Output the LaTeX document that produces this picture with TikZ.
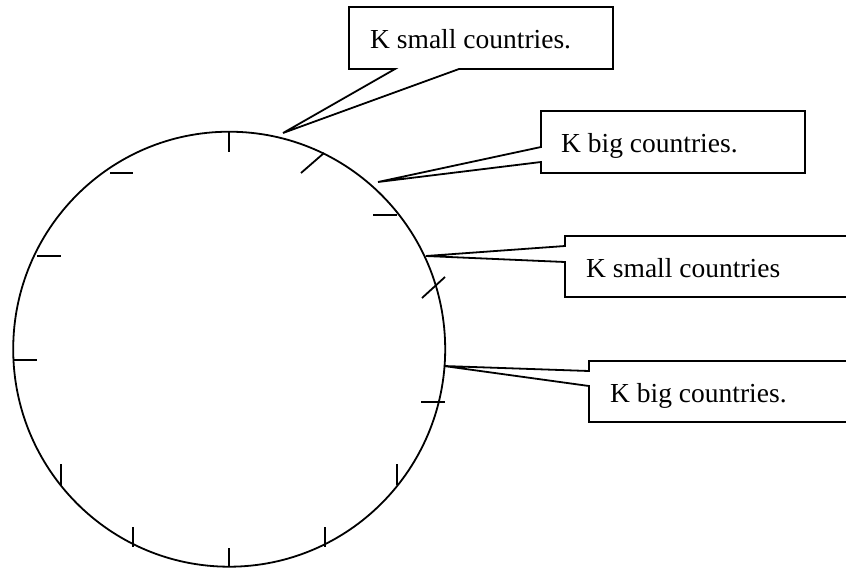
\documentclass[tikz,border=0pt]{standalone}
\usepackage{fontspec}
\setmainfont{Liberation Serif}
\begin{document}
\begin{tikzpicture}[x=1pt,y=-1pt,
  ln/.style={line width=1.8pt,line join=miter},
  tk/.style={line width=1.8pt},
  lbl/.style={anchor=base west,inner sep=0pt,font=\fontsize{27.5}{33}\selectfont}]
\useasboundingbox (0,0) rectangle (846,568);
\begin{scope}
\clip (0,0) rectangle (846,568);
% circle
\coordinate (c) at (229.2,349.2);
\draw[ln] (c) ellipse [x radius=216, y radius=217.5];
% ticks
\draw[tk] (229,132)--(229,152);
\draw[tk] (110,173)--(133,173);
\draw[tk] (37,256)--(61,256);
\draw[tk] (13,360)--(37,360);
\draw[tk] (61,464)--(61,485);
\draw[tk] (133,527)--(133,547);
\draw[tk] (229,548)--(229,567);
\draw[tk] (325,527)--(325,547);
\draw[tk] (397,464)--(397,485);
\draw[tk] (421,402)--(445,402);
\draw[tk] (301,173)--(324,153);
\draw[tk] (373,215)--(397,215);
\draw[tk] (422,298)--(445,277);
% callout 1
\coordinate (t1) at (283,133);
\draw[ln] (349,7) -- (613,7) -- (613,69) -- (459,69) -- (t1) -- (395,69) -- (349,69) -- cycle;
\node[lbl] (l1) at (370,48) {K small countries.};
% callout 2
\coordinate (t2) at (378,182);
\draw[ln] (541,111) -- (805,111) -- (805,173) -- (541,173) -- (541,162) -- (t2) -- (541,147) -- cycle;
\node[lbl] (l2) at (561,152) {K big countries.};
% callout 3
\coordinate (t3) at (426,256);
\draw[ln] (565,236) -- (870,236) -- (870,297) -- (565,297) -- (565,262) -- (t3) -- (565,246) -- cycle;
\node[lbl] (l3) at (586,277) {K small countries};
% callout 4
\coordinate (t4) at (444,366);
\draw[ln] (589,361) -- (870,361) -- (870,422) -- (589,422) -- (589,386) -- (t4) -- (589,371) -- cycle;
\node[lbl] (l4) at (610,402) {K big countries.};
\end{scope}
\end{tikzpicture}
\end{document}
